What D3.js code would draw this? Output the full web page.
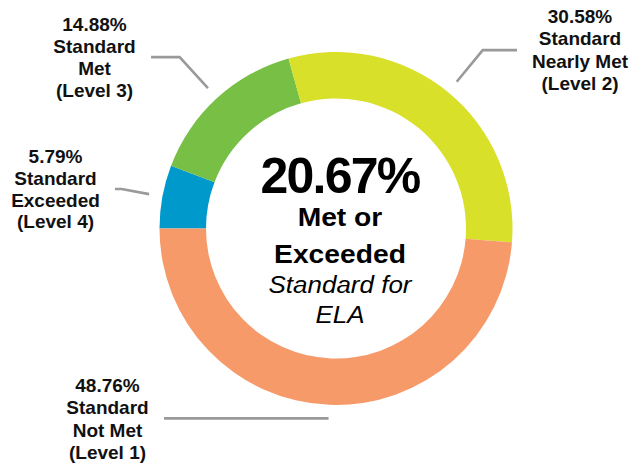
<!DOCTYPE html>
<html>
<head>
<meta charset="utf-8">
<script src="https://cdn.jsdelivr.net/npm/d3@7"></script>
<style>
  html, body { margin: 0; padding: 0; background: #fff; }
  svg { display: block; }
  text { font-family: "Liberation Sans", Arial, Helvetica, sans-serif; }
</style>
</head>
<body>
<svg id="chart" width="633" height="463"></svg>
<script>
// ---- data ----
const levels = ["Level 4", "Level 3", "Level 2", "Level 1"];
const categoryNames = ["Exceeded", "Met", "Nearly Met", "Not Met"];
const values = [5.79, 14.88, 30.58, 48.76];
const colors = ["#0099CC", "#77BF45", "#D8E02A", "#F69A6A"];
const centerValue = "20.67%";
const centerLines = ["Met or", "Exceeded"];
const centerSubLines = ["Standard for", "ELA"];

// ---- layout ----
const W = 633, H = 463;
const cx = 336, cy = 228.5;
const outerR = 176.5, innerR = 130;
const leaderStartR = 190;
// per-label leader elbow radius, horizontal end x, text anchor x, first baseline y
const labelLayout = [
  { elbowR: 218, endX: 115, tx: 55.5, ty: 163, lh: 21.8 },
  { elbowR: 232, endX: 151, tx: 94.5, ty: 30.5, lh: 22.3 },
  { elbowR: 231, endX: 517, tx: 580, ty: 22.7, lh: 22.5 },
  { elbowR: 190, endX: 164, tx: 107.5, ty: 391.7, lh: 22.5 }
];

const svg = d3.select("#chart");
const g = svg.append("g").attr("transform", `translate(${cx},${cy})`);

const pie = d3.pie().sort(null).value(d => d).startAngle(-Math.PI / 2).endAngle(1.5 * Math.PI);
const arcs = pie(values);
const arc = d3.arc().innerRadius(innerR).outerRadius(outerR);

g.selectAll("path.slice")
  .data(arcs)
  .join("path")
  .attr("class", "slice")
  .attr("d", arc)
  .attr("fill", (d, i) => colors[i]);

// leader lines
const pt = (a, r) => [r * Math.sin(a), -r * Math.cos(a)];
arcs.forEach((d, i) => {
  const a = (d.startAngle + d.endAngle) / 2;
  const L = labelLayout[i];
  const p1 = pt(a, leaderStartR);
  const p2 = pt(a, L.elbowR);
  const p3 = [L.endX - cx, p2[1]];
  g.append("path")
    .attr("d", d3.line()([p1, p2, p3]))
    .attr("fill", "none")
    .attr("stroke", "#9a9a9a")
    .attr("stroke-width", 2.6);
});

// labels
arcs.forEach((d, i) => {
  const L = labelLayout[i];
  const lines = [values[i].toFixed(2) + "%", "Standard", categoryNames[i], "(" + levels[i] + ")"];
  const t = svg.append("text")
    .attr("text-anchor", "middle")
    .attr("font-weight", "bold")
    .attr("font-size", 19)
    .attr("fill", "#111");
  lines.forEach((s, k) => {
    t.append("tspan").attr("x", L.tx).attr("y", L.ty + k * L.lh).text(s);
  });
});

// center text
const ctx = 340;
svg.append("text")
  .attr("x", ctx).attr("y", 193.3)
  .attr("text-anchor", "middle")
  .attr("font-weight", "bold")
  .attr("font-size", 50)
  .attr("letter-spacing", -1.8)
  .attr("fill", "#000")
  .text(centerValue);

const stretch = svg.append("g")
  .attr("transform", `translate(${ctx},0) scale(1.13,1)`);
centerLines.forEach((s, k) => {
  stretch.append("text")
    .attr("x", 0).attr("y", [226.5, 262.7][k])
    .attr("text-anchor", "middle")
    .attr("font-weight", "bold")
    .attr("font-size", 25)
    .attr("fill", "#000")
    .text(s);
});
centerSubLines.forEach((s, k) => {
  stretch.append("text")
    .attr("x", 0).attr("y", [293.3, 323.3][k])
    .attr("text-anchor", "middle")
    .attr("font-style", "italic")
    .attr("font-size", 23)
    .attr("fill", "#000")
    .text(s);
});
</script>
</body>
</html>
